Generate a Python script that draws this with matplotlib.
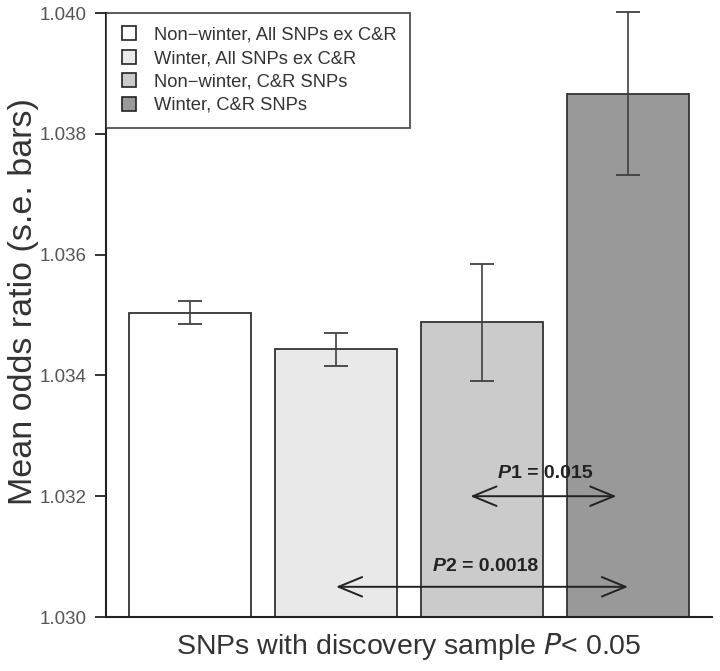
import matplotlib
matplotlib.use("Agg")
import matplotlib.pyplot as plt
from matplotlib.lines import Line2D
from matplotlib.patches import FancyArrowPatch

plt.rcParams['font.family'] = ['Liberation Sans', 'DejaVu Sans']

# ---- data ----
categories = ["Non\u2212winter, All SNPs ex C&R", "Winter, All SNPs ex C&R",
              "Non\u2212winter, C&R SNPs", "Winter, C&R SNPs"]
means = [1.03504, 1.03443, 1.03488, 1.03866]
se = [0.00019, 0.00027, 0.00097, 0.00135]
colors = ["#ffffff", "#e9e9e9", "#cbcbcb", "#999999"]
yticks = [1.030, 1.032, 1.034, 1.036, 1.038, 1.040]
ytick_labels = ["1.030", "1.032", "1.034", "1.036", "1.038", "1.040"]
# (label number, value text, arrow start, arrow end, arrow y, text split x, text y)
comparisons = [("1", "0.015", 1.92, 2.92, 1.0320, 2.199, 1.03237),
               ("2", "0.0018", 1.0, 3.0, 1.0305, 1.753, 1.03083)]

fig = plt.figure(figsize=(7.2, 6.71), dpi=100)
ax = fig.add_axes([106/720, 54/671, (712-106)/720, 604/671])

x = list(range(len(means)))
base = 1.030
ax.bar(x, [m - base for m in means], bottom=base, width=122/146,
       color=colors, edgecolor="#333333", linewidth=1.3, zorder=2)
eb = ax.errorbar(x, means, yerr=se, fmt="none", ecolor="#404040",
                 elinewidth=1.2, capsize=8.3, capthick=1.3, zorder=3)
for artist in eb.lines[1] + eb.lines[2]:
    artist.set_clip_on(False)

ax.set_xlim(-0.575, 3.575)
ax.set_ylim(1.030, 1.040)
ax.set_yticks(yticks)
ax.set_yticklabels(ytick_labels)
ax.set_xticks([])
ax.tick_params(axis="y", length=8, width=1.3, color="#222222",
               labelsize=13.5, labelcolor="#555555", pad=6)
for s in ["top", "right"]:
    ax.spines[s].set_visible(False)
ax.spines["left"].set_linewidth(1.5)
ax.spines["left"].set_color("#222222")
ax.spines["bottom"].set_linewidth(1.5)
ax.spines["bottom"].set_color("#222222")

ax.set_ylabel("Mean odds ratio (s.e. bars)", fontsize=24.5, color="#333333")
ax.yaxis.set_label_coords(-0.11, 0.523)
ax.set_xlabel("SNPs with discovery sample $\\it{P}$< 0.05", fontsize=20.5,
              color="#333333", labelpad=10)

# comparison arrows and labels
for num, val, x0, x1, yy, xs, ty in comparisons:
    arr = FancyArrowPatch((x0, yy), (x1, yy), arrowstyle="<->,head_length=17,head_width=7",
                          mutation_scale=1, shrinkA=0, shrinkB=0,
                          color="#222222", linewidth=1.4, zorder=4)
    ax.add_patch(arr)
    ax.text(xs, ty, "P", ha="right", va="center", fontsize=14,
            fontweight="bold", fontstyle="italic", color="#222222", zorder=5)
    ax.text(xs, ty, num + " = " + val, ha="left", va="center", fontsize=14,
            fontweight="bold", color="#222222", zorder=5)

# legend
handles = [Line2D([], [], linestyle="none", marker="s", markersize=9.5,
                  markerfacecolor=c, markeredgecolor="#222222", markeredgewidth=1.2)
           for c in colors]
leg = ax.legend(handles, categories, loc="upper left", bbox_to_anchor=(0, 1),
                borderaxespad=0, fontsize=13.2, frameon=True, fancybox=False,
                handlelength=1.0, handletextpad=0.85, labelspacing=0.35,
                borderpad=0.75, labelcolor="#333333")
leg.get_frame().set_edgecolor("#222222")
leg.get_frame().set_linewidth(1.3)

fig.savefig("out.png", dpi=100)
